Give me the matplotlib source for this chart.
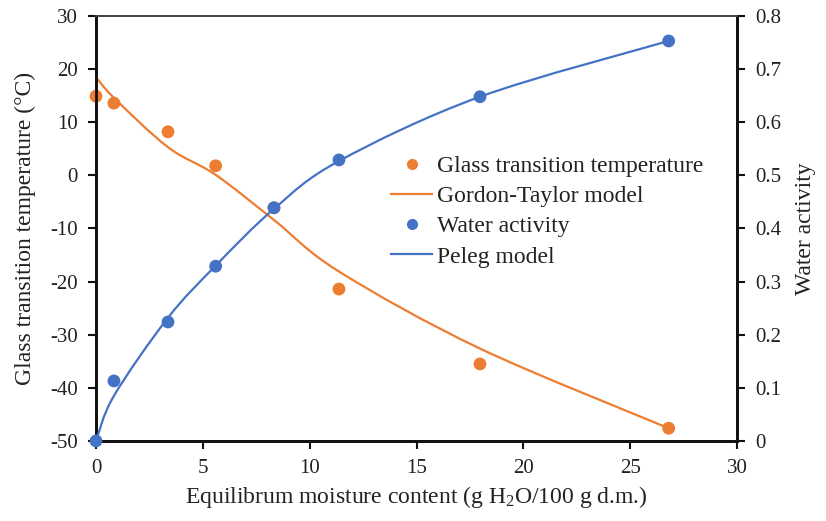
import matplotlib
matplotlib.use("Agg")
import matplotlib.pyplot as plt
from matplotlib.path import Path
from matplotlib.patches import PathPatch
from matplotlib.lines import Line2D

plt.rcParams['font.family'] = ['Liberation Serif', 'DejaVu Serif']
plt.rcParams['mathtext.fontset'] = 'custom'
plt.rcParams['mathtext.rm'] = 'Liberation Serif'
plt.rcParams['mathtext.it'] = 'Liberation Serif:italic'
plt.rcParams['mathtext.bf'] = 'Liberation Serif:bold'

# Data
moisture = [0.0, 0.84, 3.37, 5.6, 8.33, 11.37, 17.97, 26.8]
tg_measured = [14.9, 13.6, 8.2, 1.8, -6.1, -21.4, -35.5, -47.6]
tg_model = [18.5, 14.6, 5.3, 0.1, -8.4, -18.1, -32.6, -47.6]
aw_measured = [0.0, 0.113, 0.224, 0.329, 0.439, 0.529, 0.648, 0.753]
aw_model = [0.0, 0.085, 0.232, 0.330, 0.437, 0.527, 0.648, 0.753]

x_ticks = [0, 5, 10, 15, 20, 25, 30]
tg_ticks = [-50, -40, -30, -20, -10, 0, 10, 20, 30]
aw_ticks = [0, 0.1, 0.2, 0.3, 0.4, 0.5, 0.6, 0.7, 0.8]

ORANGE = '#ED7D31'
BLUE = '#4472C4'
TXT = '#222222'


def smooth_path(xs, ys):
    """Excel-style smoothed line as cubic Bezier path through the points."""
    n = len(xs)
    verts = [(xs[0], ys[0])]
    codes = [Path.MOVETO]
    for i in range(n - 1):
        p0 = (xs[max(i - 1, 0)], ys[max(i - 1, 0)])
        p1 = (xs[i], ys[i])
        p2 = (xs[i + 1], ys[i + 1])
        p3 = (xs[min(i + 2, n - 1)], ys[min(i + 2, n - 1)])
        c1 = (p1[0] + (p2[0] - p0[0]) / 6, p1[1] + (p2[1] - p0[1]) / 6)
        c2 = (p2[0] - (p3[0] - p1[0]) / 6, p2[1] - (p3[1] - p1[1]) / 6)
        verts += [c1, c2, p2]
        codes += [Path.CURVE4] * 3
    return Path(verts, codes)


fig = plt.figure(figsize=(8.26, 5.21), dpi=100)
ax = fig.add_axes([0.1162, 0.1536, 0.7761, 0.8157])
ax2 = ax.twinx()

ax.set_xlim(0, 30)
ax.set_ylim(-50, 30)
ax2.set_ylim(0, 0.8)

ax.add_patch(PathPatch(smooth_path(moisture, tg_model), fill=False,
                       edgecolor=ORANGE, lw=1.6, zorder=3, clip_on=False))
ax.scatter(moisture, tg_measured, s=85, color=ORANGE, zorder=4, clip_on=False,
           edgecolors='none')
ax2.add_patch(PathPatch(smooth_path(moisture, aw_model), fill=False,
                        edgecolor=BLUE, lw=1.6, zorder=3, clip_on=False))
ax2.scatter(moisture, aw_measured, s=85, color=BLUE, zorder=4, clip_on=False,
            edgecolors='none')

ax.set_xticks(x_ticks)
ax.set_xticklabels([str(v) for v in x_ticks])
ax.set_yticks(tg_ticks)
ax.set_yticklabels([str(v) for v in tg_ticks])
ax2.set_yticks(aw_ticks)
ax2.set_yticklabels(['0' if v == 0 else f'{v:.1f}' for v in aw_ticks])

for a in (ax, ax2):
    a.tick_params(direction='out', length=6, width=1.5, color='#111111',
                  labelsize=15, labelcolor=TXT, pad=7)
    for side in ('left', 'right', 'bottom'):
        a.spines[side].set_linewidth(2.0)
        a.spines[side].set_color('#111111')
    a.spines['top'].set_linewidth(1.3)
    a.spines['top'].set_color('#444444')

ax.set_xlabel('Equilibrum moisture content (g H$_2$O/100 g d.m.)',
              fontsize=17, color=TXT, labelpad=4)
ax.set_ylabel('Glass transition temperature (°C)', fontsize=17, color=TXT,
              labelpad=10)
ax2.set_ylabel('Water activity', fontsize=17, color=TXT, labelpad=10)

handles = [
    Line2D([], [], ls='none', marker='o', ms=8, color=ORANGE, mec='none'),
    Line2D([], [], color=ORANGE, lw=1.6),
    Line2D([], [], ls='none', marker='o', ms=8, color=BLUE, mec='none'),
    Line2D([], [], color=BLUE, lw=1.6),
]
labels = ['Glass transition temperature', 'Gordon-Taylor model',
          'Water activity', 'Peleg model']
leg = ax2.legend(handles, labels, loc='upper left',
                 bbox_to_anchor=(0.46, 0.672), frameon=False, fontsize=17,
                 handlelength=1.75, handletextpad=0.2, labelspacing=0.37,
                 borderaxespad=0, borderpad=0)
for t in leg.get_texts():
    t.set_color(TXT)

fig.savefig('out.png', dpi=100)
